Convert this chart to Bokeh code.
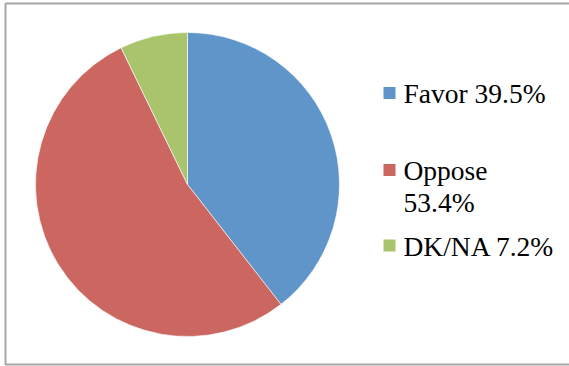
import math
from bokeh.plotting import figure
from bokeh.models import Range1d, ColumnDataSource
from bokeh.core.properties import value
from bokeh.embed import file_html
from bokeh.resources import INLINE

# ---- data ----
categories = ["Favor", "Oppose", "DK/NA"]
percents = [39.5, 53.4, 7.2]
legend_labels = ["Favor 39.5%", "Oppose\n53.4%", "DK/NA 7.2%"]
colors = ["#5f95c8", "#cc6660", "#a9c46c"]

# ---- layout (page pixel coordinates) ----
W, H = 569, 366
CX, CY, R = 187, 184, 152
sq_x = 389
sq_y = [92.5, 169.5, 245]
txt_x = 403
txt_y = [102, 179, 255]   # baseline of first line of each label
line_gap = 32.5
baseline_fix = 9.5

total = sum(percents)
starts, ends = [], []
acc = 0.0
for v in percents:
    starts.append(math.pi / 2 - 2 * math.pi * acc / total)
    acc += v
    ends.append(math.pi / 2 - 2 * math.pi * acc / total)

p = figure(width=W, height=H, output_backend="svg", toolbar_location=None,
           x_range=Range1d(0, W), y_range=Range1d(0, H),
           min_border=0)
p.axis.visible = False
p.grid.visible = False
p.outline_line_color = None
p.background_fill_color = "white"
p.border_fill_color = "white"

# chart border
p.quad(left=[5], right=[571], bottom=[H - 364], top=[H - 3],
       fill_color=None, line_color="#a6a6a6", line_width=2)

src = ColumnDataSource(dict(cat=categories, val=percents, start=starts, end=ends,
                            color=colors, sx=[sq_x] * 3,
                            sy=[H - y for y in sq_y]))

p.wedge(x=CX, y=H - CY, radius=R, start_angle="start", end_angle="end",
        direction="clock", fill_color="color", line_color="white",
        line_width=0.6, source=src)

p.rect(x="sx", y="sy", width=12, height=12, fill_color="color",
       line_color=None, source=src)

lines, lx, ly = [], [], []
for lab, y0 in zip(legend_labels, txt_y):
    for i, ln in enumerate(lab.split("\n")):
        lines.append(ln)
        lx.append(txt_x)
        ly.append(H - (y0 + i * line_gap - baseline_fix))
tsrc = ColumnDataSource(dict(text=lines, x=lx, y=ly))
p.text(x="x", y="y", text="text", source=tsrc, text_font=value("Liberation Serif"),
       text_font_size="27.5px", text_color="#000000", text_baseline="alphabetic",
       text_align="left")

open("out.html", "w").write(file_html(p, INLINE))
